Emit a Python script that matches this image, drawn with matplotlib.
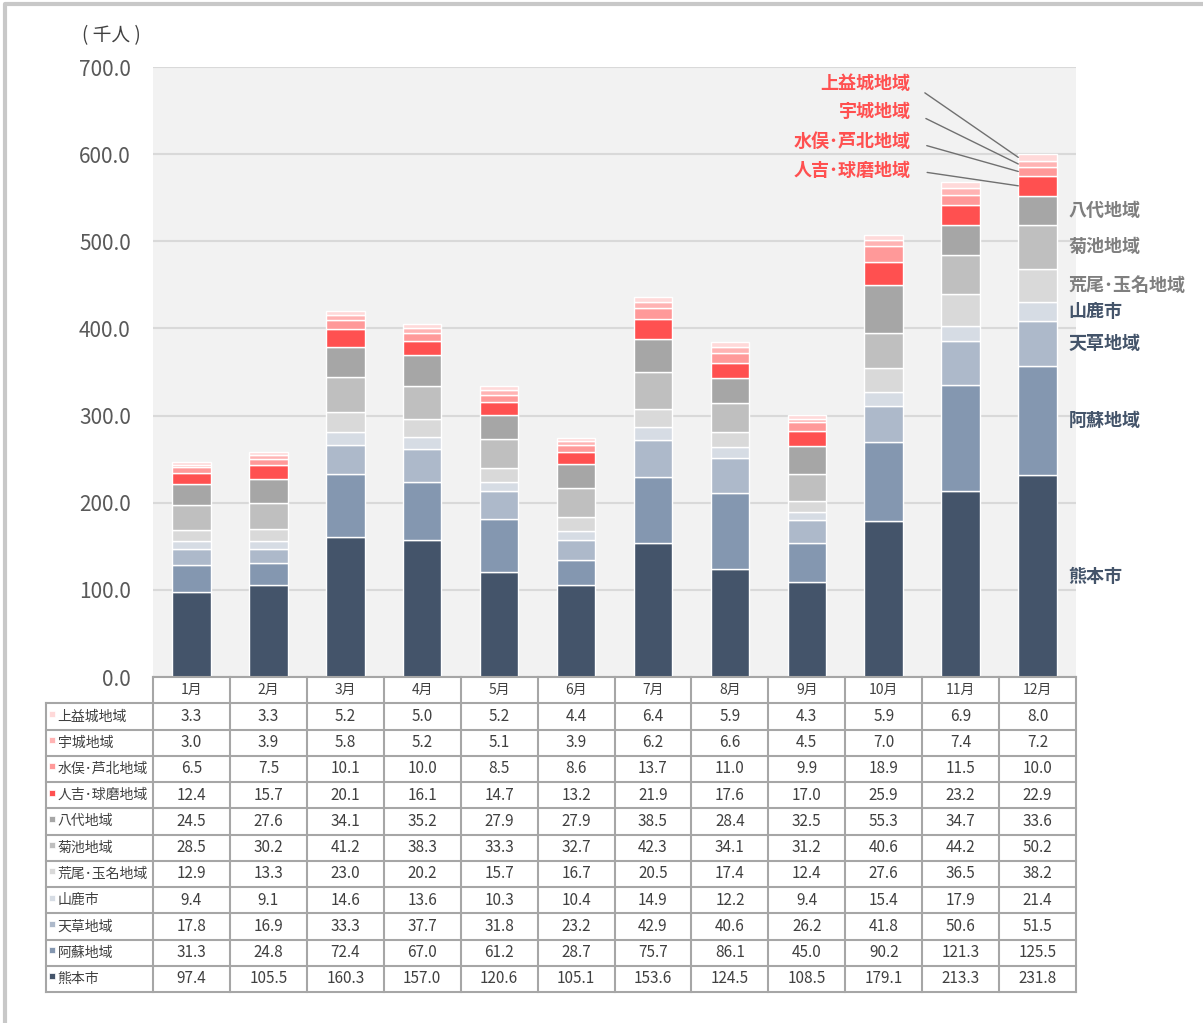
import numpy as np
import matplotlib
matplotlib.use('Agg')
import matplotlib.pyplot as plt
from matplotlib.lines import Line2D

plt.rcParams['font.family'] = ['Noto Sans CJK JP', 'DejaVu Sans']

months = ['1月', '2月', '3月', '4月', '5月', '6月', '7月', '8月', '9月', '10月', '11月', '12月']

# series from bottom of the stack to the top
names = ['熊本市', '阿蘇地域', '天草地域', '山鹿市', '荒尾･玉名地域', '菊池地域',
         '八代地域', '人吉･球磨地域', '水俣･芦北地域', '宇城地域', '上益城地域']
kumamoto = [97.4, 105.5, 160.3, 157.0, 120.6, 105.1, 153.6, 124.5, 108.5, 179.1, 213.3, 231.8]
aso = [31.3, 24.8, 72.4, 67.0, 61.2, 28.7, 75.7, 86.1, 45.0, 90.2, 121.3, 125.5]
amakusa = [17.8, 16.9, 33.3, 37.7, 31.8, 23.2, 42.9, 40.6, 26.2, 41.8, 50.6, 51.5]
yamaga = [9.4, 9.1, 14.6, 13.6, 10.3, 10.4, 14.9, 12.2, 9.4, 15.4, 17.9, 21.4]
arao = [12.9, 13.3, 23.0, 20.2, 15.7, 16.7, 20.5, 17.4, 12.4, 27.6, 36.5, 38.2]
kikuchi = [28.5, 30.2, 41.2, 38.3, 33.3, 32.7, 42.3, 34.1, 31.2, 40.6, 44.2, 50.2]
yatsushiro = [24.5, 27.6, 34.1, 35.2, 27.9, 27.9, 38.5, 28.4, 32.5, 55.3, 34.7, 33.6]
hitoyoshi = [12.4, 15.7, 20.1, 16.1, 14.7, 13.2, 21.9, 17.6, 17.0, 25.9, 23.2, 22.9]
minamata = [6.5, 7.5, 10.1, 10.0, 8.5, 8.6, 13.7, 11.0, 9.9, 18.9, 11.5, 10.0]
uki = [3.0, 3.9, 5.8, 5.2, 5.1, 3.9, 6.2, 6.6, 4.5, 7.0, 7.4, 7.2]
kamimashiki = [3.3, 3.3, 5.2, 5.0, 5.2, 4.4, 6.4, 5.9, 4.3, 5.9, 6.9, 8.0]
series = [kumamoto, aso, amakusa, yamaga, arao, kikuchi, yatsushiro,
          hitoyoshi, minamata, uki, kamimashiki]

colors = ['#44546a', '#8497b0', '#adb9ca', '#d6dce4', '#d9d9d9', '#bfbfbf',
          '#a6a6a6', '#ff5050', '#ff9999', '#ffb3b3', '#ffd9d9']
label_colors = ['#44546a', '#44546a', '#44546a', '#44546a', '#7f7f7f', '#7f7f7f',
                '#7f7f7f', '#ff5050', '#ff5050', '#ff5050', '#ff5050']

W, H = 1203, 1023
fig = plt.figure(figsize=(W / 100, H / 100), dpi=100)

# outer frame
fig.add_artist(Line2D([5 / W, 5 / W, 1], [0, 1 - 4 / H, 1 - 4 / H],
                      transform=fig.transFigure, color='#c8c8c8', lw=3))

ax = fig.add_axes([153 / W, 1 - 677 / H, (1076 - 153) / W, (677 - 67) / H])
ax.set_facecolor('#f2f2f2')
x = np.arange(len(months))
bottom = np.zeros(len(months))
mids = []
for vals, c in zip(series, colors):
    vals = np.array(vals)
    ax.bar(x, vals, 0.5, bottom=bottom, color=c, edgecolor='white', linewidth=1.0, zorder=3)
    mids.append(bottom[-1] + vals[-1] / 2)
    bottom = bottom + vals

ax.set_xlim(-0.5, 11.5)
ax.set_ylim(0, 700)
ax.set_yticks(np.arange(0, 701, 100))
ax.set_yticklabels(['%.1f' % v for v in np.arange(0, 701, 100)], fontsize=15, color='#595959')
ax.tick_params(axis='y', length=0, pad=16)
ax.set_xticks([])
ax.grid(True, axis='y', color='#d9d9d9', lw=1.5, zorder=0)
for s in ax.spines.values():
    s.set_visible(False)
ax.text(-0.045, 1.052, '( 千人 )', transform=ax.transAxes, fontsize=13.5,
        color='#404040', ha='center', va='center')

# labels right of the last bar
for i in range(7):
    ax.text(11.4, mids[i], names[i], fontsize=13, fontweight='bold',
            color=label_colors[i], ha='left', va='center', clip_on=False)

# red labels with leader lines
red_y = [581.8, 615, 649.5, 681.6]
for k, i in enumerate(range(7, 11)):
    ax.annotate(names[i], xy=(10.75, mids[i]), xytext=(9.35, red_y[k]),
                fontsize=13, fontweight='bold', color=label_colors[i],
                ha='right', va='center',
                arrowprops=dict(arrowstyle='-', color='#707070', lw=1,
                                relpos=(1, 0.5), shrinkA=10, shrinkB=0),
                zorder=5)

# data table
tax = fig.add_axes([46 / W, 1 - 992 / H, (1076 - 46) / W, (992 - 677) / H])
left = -0.5 - 107 / 76.9
tax.set_xlim(left, 11.5)
tax.set_ylim(12, 0)
tax.axis('off')
lc = '#a6a6a6'
tax.plot([-0.5, 11.5], [0, 0], color=lc, lw=1.5, clip_on=False)
for r in range(1, 13):
    tax.plot([left, 11.5], [r, r], color=lc, lw=1.5, clip_on=False)
tax.plot([left, left], [1, 12], color=lc, lw=1.5, clip_on=False)
for j in range(13):
    tax.plot([j - 0.5, j - 0.5], [0, 12], color=lc, lw=1.5, clip_on=False)

for j, m in enumerate(months):
    tax.text(j, 0.5, m, fontsize=10, color='#404040', ha='center', va='center')

rows = list(range(len(names)))[::-1]
for r, i in enumerate(rows):
    yy = r + 1.5
    tax.plot(left + 0.08, yy - 0.1, marker='s', ms=4, color=colors[i], mec='white', mew=0.5)
    tax.text(left + 0.15, yy, names[i], fontsize=10, color='#404040', ha='left', va='center')
    for j in range(len(months)):
        tax.text(j, yy, '%.1f' % series[i][j], fontsize=11, color='#404040',
                 ha='center', va='center')

fig.savefig('out.png', dpi=100)
